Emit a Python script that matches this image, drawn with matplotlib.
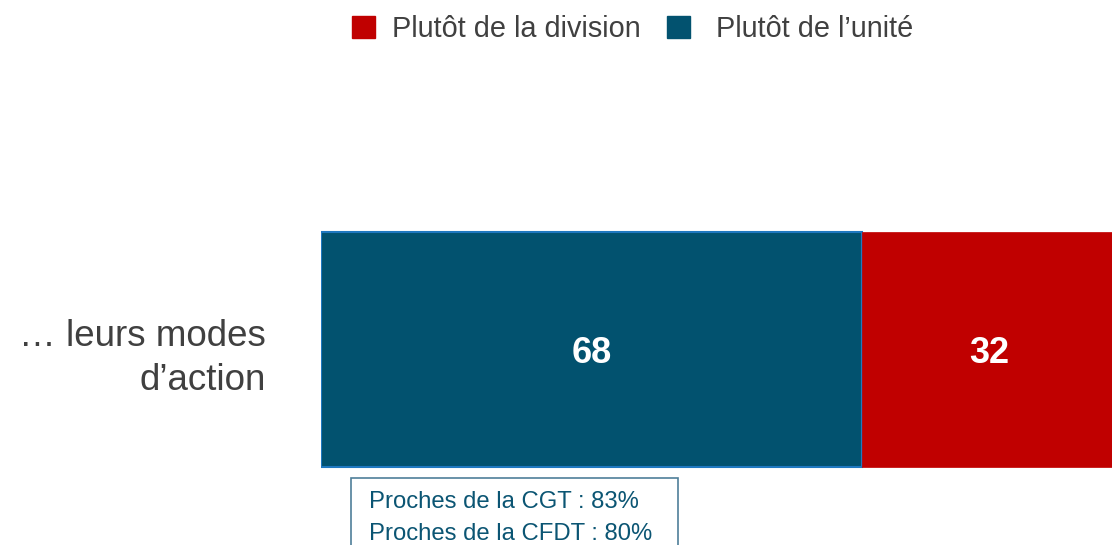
import matplotlib
matplotlib.use("Agg")
import matplotlib.pyplot as plt
from matplotlib.patches import Patch, Rectangle

plt.rcParams['font.family'] = ['Liberation Sans', 'DejaVu Sans']

categories = ["… leurs modes\nd’action"]
unite = [68]
division = [32]
series_names = ["Plutôt de la division", "Plutôt de l’unité"]
note_lines = ["Proches de la CGT : 83%", "Proches de la CFDT : 80%"]

BLUE = "#02526F"
RED = "#C00000"
GREY = "#404040"

fig = plt.figure(figsize=(11.12, 5.45), dpi=100)
ax = fig.add_axes([321 / 1112, 0, 1 - 321 / 1112, 1])

y = list(range(len(categories)))
ax.barh(y, unite, height=1.0, color=BLUE, edgecolor="#1F78C0", linewidth=1.5)
ax.barh(y, division, left=unite, height=1.0, color=RED, edgecolor=RED, linewidth=0.5)

for i in y:
    ax.annotate(str(unite[i]), (unite[i] / 2, i), xytext=(0, -9.7),
                textcoords="offset points", ha="center", va="baseline",
                color="white", fontsize=26, fontweight="bold")
    ax.annotate(str(division[i]), (unite[i] + division[i] / 2, i), xytext=(0, -9.7),
                textcoords="offset points", ha="center", va="baseline",
                color="white", fontsize=26, fontweight="bold")

ax.set_xlim(0, 99.4)
ax.set_ylim(-0.5 - 78 / 235, 0.5 + 232 / 235)
ax.set_yticks(y)
ax.set_yticklabels(categories, fontsize=26.5, color=GREY, ha="right",
                   linespacing=1.34)
ax.tick_params(axis="y", length=0, pad=40)
ax.set_xticks([])
for s in ax.spines.values():
    s.set_visible(False)

handles = [Patch(facecolor=RED, edgecolor=RED), Patch(facecolor=BLUE, edgecolor=BLUE)]
leg_labels = [series_names[0], " " + series_names[1]]
fig.legend(handles, leg_labels, loc="upper left",
           bbox_to_anchor=(326 / 1112, 1.02),
           ncol=2, frameon=False, fontsize=20.8, handlelength=0.8, handleheight=0.8,
           handletextpad=0.6, columnspacing=0.9, labelcolor=GREY)

# note box
fig.patches.append(Rectangle((351 / 1112, -0.05), 327 / 1112, 0.05 + (545 - 478) / 545,
                             transform=fig.transFigure, fill=False,
                             edgecolor="#4F7F99", linewidth=1.2))
fig.text(369 / 1112, (545 - 508) / 545, note_lines[0], fontsize=17.2,
         color="#0B5573", va="baseline", ha="left")
fig.text(369 / 1112, (545 - 540) / 545, note_lines[1], fontsize=17.2,
         color="#0B5573", va="baseline", ha="left")

fig.savefig("out.png", dpi=100, facecolor="white")
